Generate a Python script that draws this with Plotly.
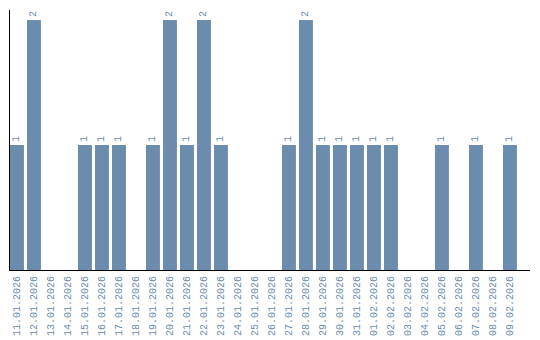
import plotly.graph_objects as go

dates = ["11.01.2026", "12.01.2026", "13.01.2026", "14.01.2026", "15.01.2026",
         "16.01.2026", "17.01.2026", "18.01.2026", "19.01.2026", "20.01.2026",
         "21.01.2026", "22.01.2026", "23.01.2026", "24.01.2026", "25.01.2026",
         "26.01.2026", "27.01.2026", "28.01.2026", "29.01.2026", "30.01.2026",
         "31.01.2026", "01.02.2026", "02.02.2026", "03.02.2026", "04.02.2026",
         "05.02.2026", "06.02.2026", "07.02.2026", "08.02.2026", "09.02.2026"]
counts = [1, 2, 0, 0, 1, 1, 1, 0, 1, 2, 1, 2, 1, 0, 0, 0, 1, 2, 1, 1,
          1, 1, 1, 0, 0, 1, 0, 1, 0, 1]

bar_color = "#6b8cac"
text_color = "#6b8cac"
labels = [str(v) if v else "" for v in counts]

fig = go.Figure(go.Bar(
    x=dates, y=counts, marker_color=bar_color, marker_line_width=0,
    text=labels, textposition="outside", textangle=-90,
    textfont=dict(family="Liberation Mono", size=10, color=text_color),
    constraintext="none", cliponaxis=False, hoverinfo="x+y",
))

fig.update_layout(
    width=540, height=340,
    margin=dict(l=10, r=10, t=10, b=70),
    paper_bgcolor="white", plot_bgcolor="white",
    bargap=0.18, showlegend=False,
    xaxis=dict(type="category", range=[-0.41, 30.18], showgrid=False,
               showline=True, linecolor="black", linewidth=1,
               ticks="", tickangle=-90, automargin=False, ticklabelstandoff=1,
               tickfont=dict(family="Liberation Mono", size=10, color=text_color)),
    yaxis=dict(range=[0, 2.08], showgrid=False, zeroline=False,
               showline=True, linecolor="black", linewidth=1,
               showticklabels=False, ticks="", automargin=False),
)

fig.write_html("out.html")
